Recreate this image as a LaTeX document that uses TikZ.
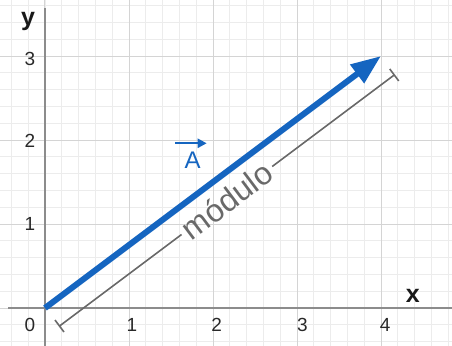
\documentclass[tikz,border=0pt]{standalone}
\usepackage{fontspec}
\setmainfont{Liberation Sans}
\usetikzlibrary{arrows.meta}
\definecolor{vecblue}{RGB}{21,101,192}
\definecolor{gridmajor}{RGB}{212,212,212}
\definecolor{gridminor}{RGB}{236,236,236}
\definecolor{axisgray}{RGB}{140,140,140}
\definecolor{measgray}{RGB}{105,105,105}
\definecolor{labelgray}{RGB}{40,40,40}
\begin{document}
\begin{tikzpicture}[x=84pt,y=84pt,
  ticklabel/.style={text=labelgray,font=\fontsize{19}{19}\selectfont,inner sep=0pt},
  axislabel/.style={text=black!90,font=\bfseries\fontsize{25}{25}\selectfont,inner sep=0pt},
  vecline/.style={vecblue,line width=6pt,-{Triangle[length=30pt,width=22pt]}},
  measline/.style={measgray,line width=1.6pt},
  modtext/.style={text=measgray,font=\fontsize{32}{32}\selectfont,inner sep=4pt},
  veclabel/.style={text=vecblue,font=\fontsize{24}{24}\selectfont,inner sep=0pt}]
\useasboundingbox (-0.5357,-0.4405) rectangle (4.8452,3.6667);
\clip (-0.5357,-0.4405) rectangle (4.8452,3.6667);
% grid
\draw[gridminor,line width=0.8pt,step=0.2] (-0.6,-0.6) grid (5,3.8);
\draw[gridmajor,line width=1pt,step=1] (-1,-1) grid (5,4);
% axes
\draw[axisgray,line width=2pt] (-0.44,0) -- (4.85,0);
\draw[axisgray,line width=2pt] (0,-0.45) -- (0,3.57);
% axis labels
\node[axislabel] (xl) at (4.38,0.14) {x};
\node[axislabel] (yl) at (-0.202,3.405) {y};
% tick labels
\node[ticklabel] (t0) at (-0.179,-0.202) {0};
\node[ticklabel] (tx1) at (1.035,-0.202) {1};
\node[ticklabel] (tx2) at (2.045,-0.202) {2};
\node[ticklabel] (tx3) at (3.065,-0.202) {3};
\node[ticklabel] (tx4) at (4.05,-0.202) {4};
\node[ticklabel] (ty1) at (-0.179,0.995) {1};
\node[ticklabel] (ty2) at (-0.179,1.99) {2};
\node[ticklabel] (ty3) at (-0.179,2.97) {3};
% vector
\coordinate (O) at (0,0);
\coordinate (P) at (4,3);
\draw[vecline] (O) -- (P);
% vector label
\node[veclabel] (A) at (1.756,1.762) {A};
\coordinate (Aa) at (1.548,1.961);
\coordinate (Ab) at (1.925,1.961);
\draw[vecblue,line width=2.2pt,-{Triangle[length=9pt,width=9pt]}] (Aa) -- (Ab);
% measurement
\coordinate (M1) at (0.165,-0.22);
\coordinate (M2) at (4.165,2.78);
\node[modtext,rotate=36.87] (mod) at (2.165,1.28) {módulo};
\draw[measline,{Bar[width=15pt]}-] (M1) -- (mod.west);
\draw[measline,-{Bar[width=15pt]}] (mod.east) -- (M2);
\end{tikzpicture}
\end{document}
